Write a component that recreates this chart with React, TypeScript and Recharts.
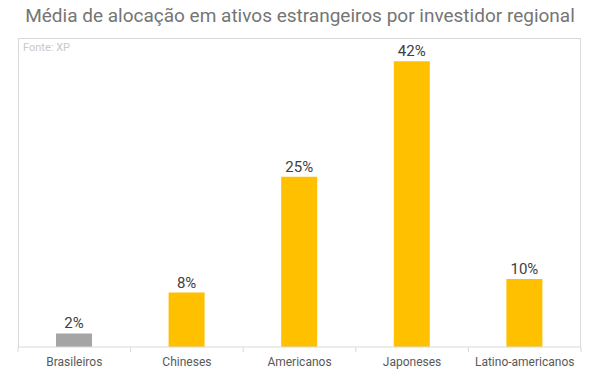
import { BarChart, Bar, XAxis, YAxis, Cell, LabelList } from "recharts";

const categories = ["Brasileiros", "Chineses", "Americanos", "Japoneses", "Latino-americanos"];
const values = [2, 8, 25, 42, 10];
const barColors = ["#A5A5A5", "#FFC000", "#FFC000", "#FFC000", "#FFC000"];

const data = categories.map((name, i) => ({ name, value: values[i] }));

const W = 600;
const H = 379;
const M = { top: 38, right: 19, left: 18, bottom: 0 };
const plotW = W - M.left - M.right;
const bandW = plotW / categories.length;

function Tick(props: any) {
  const { x, y, payload, index } = props;
  const left = x - bandW / 2;
  return (
    <g>
      <line x1={left} x2={left} y1={y - 8} y2={y - 3} stroke="#d9d9d9" />
      {index === categories.length - 1 && (
        <line x1={left + bandW} x2={left + bandW} y1={y - 8} y2={y - 3} stroke="#d9d9d9" />
      )}
      <text x={x} y={y + 11} textAnchor="middle" fill="#595959" fontSize={12}>
        {payload.value}
      </text>
    </g>
  );
}

export default function App() {
  return (
    <div style={{ position: "absolute", left: 0, top: 0, width: W, height: H, fontFamily: "Roboto, sans-serif", background: "#fff" }}>
      <div style={{ position: "absolute", left: 0, top: 4, width: W, textAlign: "center", fontSize: 19, color: "#757575" }}>
        Média de alocação em ativos estrangeiros por investidor regional
      </div>
      <div style={{
        position: "absolute", left: M.left, top: M.top, width: plotW, height: 309,
        borderTop: "1px solid #d9d9d9", borderLeft: "1px solid #d9d9d9", borderRight: "1px solid #d9d9d9",
        boxSizing: "border-box",
      }} />
      <div style={{ position: "absolute", left: 23, top: 41, fontSize: 11, color: "#c8c8c8" }}>Fonte: XP</div>
      <div style={{ position: "absolute", left: 0, top: 0 }}>
        <BarChart width={W} height={H} data={data} margin={M} barCategoryGap={0}>
          <XAxis
            dataKey="name"
            axisLine={{ stroke: "#d9d9d9" }}
            tickLine={false}
            tick={<Tick />}
            height={32}
            interval={0}
          />
          <YAxis hide domain={[0, 45.4]} />
          <Bar dataKey="value" barSize={36} isAnimationActive={false}>
            {data.map((d, i) => (
              <Cell key={d.name} fill={barColors[i]} />
            ))}
            <LabelList
              dataKey="value"
              position="top"
              fill="#404040"
              fontSize={15}
              formatter={(v: any) => `${v}%`}
            />
          </Bar>
        </BarChart>
      </div>
    </div>
  );
}
